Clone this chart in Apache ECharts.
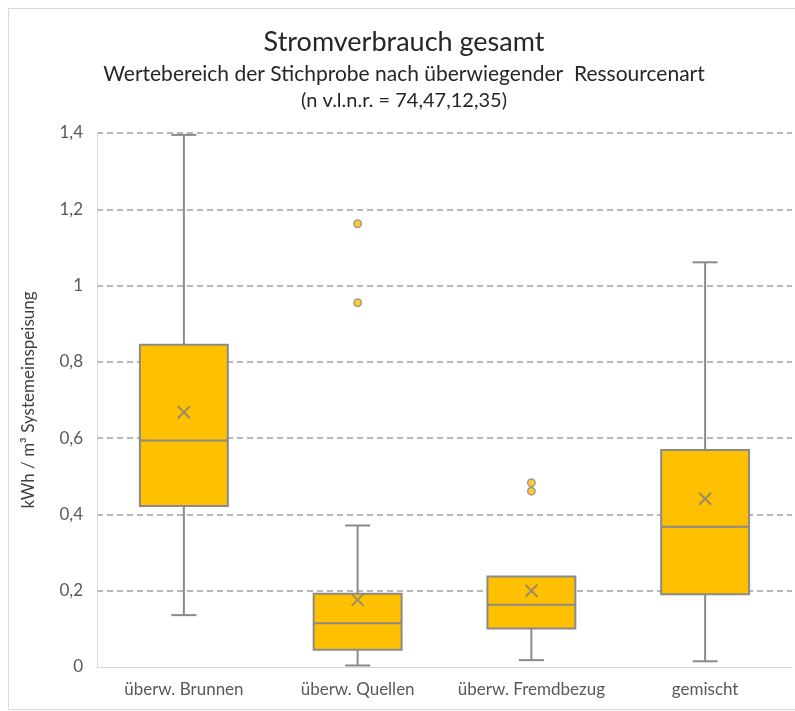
<!DOCTYPE html>
<html>
<head>
<meta charset="utf-8">
<script src="https://cdn.jsdelivr.net/npm/echarts@6/dist/echarts.min.js"></script>
<style>
  html, body { margin: 0; padding: 0; background: #ffffff; }
  #chart { width: 795px; height: 711px; }
</style>
</head>
<body>
<div id="chart"></div>
<script>
// Categories (supply resource type)
const categories = ['überw. Brunnen', 'überw. Quellen', 'überw. Fremdbezug', 'gemischt'];

// Box statistics per category, kWh per m³ system input
const whiskerMin = [0.136, 0.004, 0.018, 0.015];
const quartile1  = [0.422, 0.045, 0.101, 0.191];
const medians    = [0.594, 0.115, 0.163, 0.368];
const quartile3  = [0.845, 0.192, 0.237, 0.569];
const whiskerMax = [1.395, 0.371, 0.237, 1.061];
const means      = [0.668, 0.176, 0.200, 0.441];

// Outliers as [category index, value]
const outliers = [[1, 1.162], [1, 0.955], [2, 0.483], [2, 0.461]];

// Y axis ticks
const yMin = 0, yMax = 1.4, yStep = 0.2;

const boxFill = '#FFC000';
const lineGray = '#8a8a8a';
const textGray = '#595959';
const fontFam = 'Lato, "Open Sans", sans-serif';

const boxData = categories.map((c, i) =>
  [i, whiskerMin[i], quartile1[i], medians[i], quartile3[i], whiskerMax[i]]);
const meanData = means.map((m, i) => [i, m]);

function renderBox(params, api) {
  const i = api.value(0);
  const lo = api.coord([i, api.value(1)]);
  const q1 = api.coord([i, api.value(2)]);
  const md = api.coord([i, api.value(3)]);
  const q3 = api.coord([i, api.value(4)]);
  const hi = api.coord([i, api.value(5)]);
  const band = api.size([1, 0])[0];
  const half = band * 0.253;
  const cap = 12.5;
  const x = lo[0];
  const lineStyle = { stroke: lineGray, lineWidth: 2, fill: null };
  const children = [];
  if (hi[1] < q3[1] - 0.5) {
    children.push({ type: 'line', shape: { x1: x, y1: hi[1], x2: x, y2: q3[1] }, style: lineStyle });
    children.push({ type: 'line', shape: { x1: x - cap, y1: hi[1], x2: x + cap, y2: hi[1] }, style: lineStyle });
  }
  if (lo[1] > q1[1] + 0.5) {
    children.push({ type: 'line', shape: { x1: x, y1: q1[1], x2: x, y2: lo[1] }, style: lineStyle });
    children.push({ type: 'line', shape: { x1: x - cap, y1: lo[1], x2: x + cap, y2: lo[1] }, style: lineStyle });
  }
  children.push({
    type: 'rect',
    shape: { x: x - half, y: q3[1], width: half * 2, height: q1[1] - q3[1] },
    style: { fill: boxFill, stroke: lineGray, lineWidth: 2 }
  });
  children.push({ type: 'line', shape: { x1: x - half, y1: md[1], x2: x + half, y2: md[1] }, style: lineStyle });
  return { type: 'group', children: children };
}

const chart = echarts.init(document.getElementById('chart'), null, { renderer: 'canvas' });

chart.setOption({
  animation: false,
  backgroundColor: '#ffffff',
  grid: { left: 97, right: 3, top: 133, bottom: 44, containLabel: false },
  graphic: [
    {
      type: 'rect', z: -10, silent: true,
      shape: { x: 8.5, y: 8.5, width: 800, height: 701 },
      style: { fill: null, stroke: '#d9d9d9', lineWidth: 1 }
    },
    {
      type: 'text', x: 404, y: 42,
      style: { text: 'Stromverbrauch gesamt', fill: '#262626', font: '27px ' + fontFam, align: 'center', verticalAlign: 'middle' }
    },
    {
      type: 'text', x: 404, y: 74,
      style: { text: 'Wertebereich der Stichprobe nach überwiegender  Ressourcenart', fill: '#262626', font: '21px ' + fontFam, align: 'center', verticalAlign: 'middle' }
    },
    {
      type: 'text', x: 404, y: 101,
      style: { text: '(n v.l.n.r. = 74,47,12,35)', fill: '#262626', font: '20px ' + fontFam, align: 'center', verticalAlign: 'middle' }
    }
  ],
  xAxis: {
    type: 'category',
    data: categories,
    boundaryGap: true,
    axisLine: { show: true, lineStyle: { color: '#d9d9d9', width: 1 } },
    axisTick: { show: false },
    axisLabel: { interval: 0, hideOverlap: false, color: textGray, fontSize: 17, fontFamily: fontFam, margin: 14 },
    splitLine: { show: false }
  },
  yAxis: {
    type: 'value',
    min: yMin, max: yMax, interval: yStep,
    name: 'kWh / m³ Systemeinspeisung',
    nameLocation: 'middle',
    nameGap: 60,
    nameTextStyle: { color: '#404040', fontSize: 17, fontFamily: fontFam },
    axisLine: { show: true, lineStyle: { color: '#d9d9d9', width: 1 } },
    axisTick: { show: false },
    axisLabel: {
      color: textGray, fontSize: 17, fontFamily: fontFam, margin: 14,
      formatter: v => String(Math.round(v * 10) / 10).replace('.', ',')
    },
    splitLine: {
      show: true, showMinLine: false,
      lineStyle: { color: '#a0a0a0', width: 1.5, type: [6, 4] }
    }
  },
  series: [
    {
      type: 'custom',
      name: 'Box',
      renderItem: renderBox,
      encode: { x: 0, y: [1, 2, 3, 4, 5] },
      data: boxData,
      z: 3
    },
    {
      type: 'scatter',
      name: 'Mittelwert',
      data: meanData,
      symbol: 'path://M0,0L10,10M10,0L0,10',
      symbolSize: 12,
      itemStyle: { color: 'rgba(0,0,0,0)', borderColor: '#7f7f7f', borderWidth: 2 },
      z: 5
    },
    {
      type: 'scatter',
      name: 'Ausreißer',
      data: outliers,
      symbol: 'circle',
      symbolSize: 7.5,
      itemStyle: { color: boxFill, borderColor: lineGray, borderWidth: 1.5 },
      z: 5
    }
  ]
});
</script>
</body>
</html>
